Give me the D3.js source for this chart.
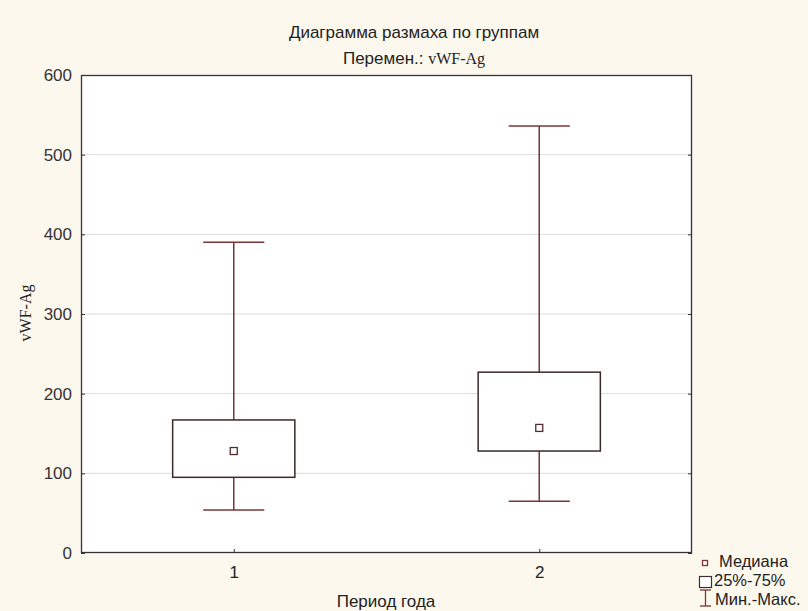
<!DOCTYPE html>
<html><head><meta charset="utf-8">
<script src="https://cdn.jsdelivr.net/npm/d3@7"></script>
<style>body{margin:0;background:#fdf8ee;}svg{display:block;}</style>
</head><body>
<svg id="c" width="808" height="611"></svg>
<script>
const categories = ["1", "2"];
const minVals = [54, 65];
const q1Vals = [95, 128];
const medianVals = [128, 157];
const q3Vals = [167, 227];
const maxVals = [390, 536];
const yTicks = [0, 100, 200, 300, 400, 500, 600];

const data = categories.map((c, i) => ({cat: c, min: minVals[i], q1: q1Vals[i], med: medianVals[i], q3: q3Vals[i], max: maxVals[i]}));

const W = 808, H = 611;
const m = {left: 81, top: 75, right: 692, bottom: 553};
const svg = d3.select("#c");
svg.append("rect").attr("width", W).attr("height", H).attr("fill", "#fdf8ee");

const x = d3.scalePoint().domain(categories).range([m.left, m.right]).padding(0.5);
const step = x.step();
const y = d3.scaleLinear().domain([0, 600]).range([m.bottom, m.top]);

svg.append("rect").attr("x", m.left).attr("y", m.top).attr("width", m.right - m.left).attr("height", m.bottom - m.top).attr("fill", "#fff");

// grid
svg.append("g").selectAll("line").data(yTicks.filter(t => t > 0 && t < 600)).join("line")
  .attr("x1", m.left).attr("x2", m.right).attr("y1", d => y(d)).attr("y2", d => y(d))
  .attr("stroke", "#dcdcdc").attr("stroke-width", 1);

const font = "Arial, 'Liberation Sans', sans-serif";
const fs = 17;
const axisL = svg.append("g").attr("transform", `translate(${m.left},0)`)
  .call(d3.axisLeft(y).tickValues(yTicks).tickSize(-4).tickPadding(9));
axisL.select(".domain").remove();
axisL.selectAll("line").attr("stroke", "#333");
axisL.selectAll("text").attr("font-family", font).attr("font-size", fs).attr("fill", "#333");

const axisR = svg.append("g").attr("transform", `translate(${m.right},0)`)
  .call(d3.axisRight(y).tickValues(yTicks).tickSize(-4).tickFormat(""));
axisR.select(".domain").remove();
axisR.selectAll("line").attr("stroke", "#333");

const axisB = svg.append("g").attr("transform", `translate(0,${m.bottom})`)
  .call(d3.axisBottom(x).tickSize(-4).tickPadding(13));
axisB.select(".domain").remove();
axisB.selectAll("line").attr("stroke", "#333");
axisB.selectAll("text").attr("font-family", font).attr("font-size", fs).attr("fill", "#222");

svg.append("rect").attr("x", m.left + 0.5).attr("y", m.top + 0.5).attr("width", m.right - m.left - 1).attr("height", m.bottom - m.top - 1)
  .attr("fill", "none").attr("stroke", "#333").attr("stroke-width", 1.3);

const whiskC = "#7b3535", boxC = "#3a2a2a";
const bw = step * 0.4, cw = step * 0.2;
const g = svg.append("g").selectAll("g").data(data).join("g");
g.append("line").attr("x1", d => x(d.cat)).attr("x2", d => x(d.cat)).attr("y1", d => y(d.max)).attr("y2", d => y(d.q3)).attr("stroke", whiskC).attr("stroke-width", 1.5);
g.append("line").attr("x1", d => x(d.cat)).attr("x2", d => x(d.cat)).attr("y1", d => y(d.q1)).attr("y2", d => y(d.min)).attr("stroke", whiskC).attr("stroke-width", 1.5);
g.append("line").attr("x1", d => x(d.cat) - cw / 2).attr("x2", d => x(d.cat) + cw / 2).attr("y1", d => y(d.max)).attr("y2", d => y(d.max)).attr("stroke", whiskC).attr("stroke-width", 1.5);
g.append("line").attr("x1", d => x(d.cat) - cw / 2).attr("x2", d => x(d.cat) + cw / 2).attr("y1", d => y(d.min)).attr("y2", d => y(d.min)).attr("stroke", whiskC).attr("stroke-width", 1.5);
g.append("rect").attr("x", d => x(d.cat) - bw / 2).attr("y", d => y(d.q3)).attr("width", bw).attr("height", d => y(d.q1) - y(d.q3))
  .attr("fill", "#fff").attr("stroke", boxC).attr("stroke-width", 1.5);
g.append("rect").attr("x", d => x(d.cat) - 3.5).attr("y", d => y(d.med) - 3.5).attr("width", 7).attr("height", 7)
  .attr("fill", "#fff").attr("stroke", "#5a2a2a").attr("stroke-width", 1.3);

// titles
svg.append("text").attr("x", 414).attr("y", 38).attr("text-anchor", "middle").attr("font-family", font).attr("font-size", fs).attr("fill", "#222").text("Диаграмма размаха по группам");
const t2 = svg.append("text").attr("x", 414).attr("y", 64).attr("text-anchor", "middle").attr("font-family", font).attr("font-size", fs).attr("fill", "#222");
t2.append("tspan").text("Перемен.: ");
t2.append("tspan").attr("font-family", "'Liberation Serif', 'Times New Roman', serif").attr("font-size", 16).text("vWF-Ag");

svg.append("text").attr("transform", "translate(31,313) rotate(-90)").attr("text-anchor", "middle")
  .attr("font-family", "'Liberation Serif', 'Times New Roman', serif").attr("font-size", 16).attr("fill", "#222").text("vWF-Ag");
svg.append("text").attr("x", 386).attr("y", 607).attr("text-anchor", "middle").attr("font-family", font).attr("font-size", fs).attr("fill", "#222").text("Период года");

// legend
const lfs = 16.5;
const lg = svg.append("g");
lg.append("rect").attr("x", 702.5).attr("y", 560.5).attr("width", 5).attr("height", 5).attr("fill", "#fff").attr("stroke", "#7b3535").attr("stroke-width", 1.3);
lg.append("text").attr("x", 719).attr("y", 567).attr("font-family", font).attr("font-size", lfs).attr("fill", "#222").text("Медиана");
lg.append("rect").attr("x", 699.5).attr("y", 576.5).attr("width", 12).attr("height", 11).attr("fill", "#fff").attr("stroke", "#333").attr("stroke-width", 1.2);
lg.append("text").attr("x", 714).attr("y", 586).attr("font-family", font).attr("font-size", lfs).attr("fill", "#222").text("25%-75%");
lg.append("line").attr("x1", 700).attr("x2", 711).attr("y1", 590).attr("y2", 590).attr("stroke", "#7b3535").attr("stroke-width", 1.3);
lg.append("line").attr("x1", 700).attr("x2", 711).attr("y1", 606).attr("y2", 606).attr("stroke", "#7b3535").attr("stroke-width", 1.3);
lg.append("line").attr("x1", 705.5).attr("x2", 705.5).attr("y1", 590).attr("y2", 606).attr("stroke", "#7b3535").attr("stroke-width", 1.3);
lg.append("text").attr("x", 715).attr("y", 605).attr("font-family", font).attr("font-size", lfs).attr("fill", "#222").text("Мин.-Макс.");
</script>
</body></html>
